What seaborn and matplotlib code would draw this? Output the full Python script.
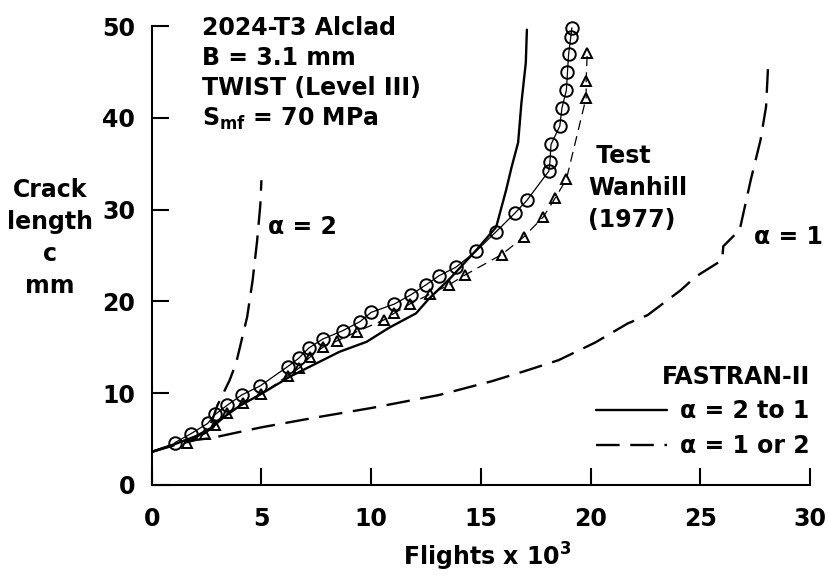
import matplotlib.pyplot as plt
import seaborn as sns

# Test data, Wanhill (1977): circles and triangles
test_o_x = [1.05, 1.8, 2.55, 2.9, 3.45, 4.1, 4.95, 6.2, 6.7, 7.15, 7.8, 8.7, 9.5, 10.0,
            11.05, 11.8, 12.5, 13.1, 13.85, 14.8, 15.7, 16.55, 17.1, 18.1, 18.15, 18.2,
            18.6, 18.7, 18.9, 18.95, 19.0, 19.1, 19.15]
test_o_c = [4.6, 5.6, 6.7, 7.7, 8.7, 9.8, 10.8, 12.9, 13.8, 14.9, 15.9, 16.8, 17.8, 18.8,
            19.7, 20.7, 21.8, 22.8, 23.7, 25.5, 27.6, 29.6, 31.0, 34.2, 35.2, 37.1,
            39.1, 41.1, 43.0, 45.0, 46.9, 48.8, 49.8]

test_t_x = [1.6, 2.45, 2.9, 3.45, 4.15, 5.0, 6.2, 6.7, 7.2, 7.8, 8.45, 9.35, 10.6, 11.05,
            11.75, 12.7, 13.55, 14.3, 15.95, 16.95, 17.85, 18.4, 18.9, 19.8, 19.8, 19.85]
test_t_c = [4.6, 5.6, 6.5, 7.8, 8.9, 9.9, 11.9, 12.7, 13.9, 15.0, 15.7, 16.7, 18.0, 18.7,
            19.7, 20.8, 21.8, 22.9, 25.1, 27.0, 29.2, 31.3, 33.3, 42.2, 44.0, 47.1]

# FASTRAN-II, alpha = 2 to 1
fas_21_x = [0, 1, 2, 2.7, 3.3, 4.0, 5.05, 6.3, 7.05, 8.55, 9.8, 10.8, 12.05, 12.6, 13.6,
            14.8, 15.7, 16.15, 16.4, 16.7, 16.85, 17.05, 17.1]
fas_21_c = [3.6, 4.4, 5.3, 6.2, 7.4, 8.6, 10.0, 11.8, 12.7, 14.5, 15.6, 17.1, 18.7, 20.2, 22.5,
            25.6, 28.1, 32.1, 34.6, 37.3, 41.6, 46.0, 49.6]

# FASTRAN-II, alpha = 1
fas_1_x = [0, 1, 2, 2.7, 4.45, 5.05, 7.6, 10.05, 13.1, 15.5, 17.0, 18.55, 20.2, 21.7, 22.6,
           24.1, 24.8, 26.0, 26.05, 26.8, 27.3, 27.75, 28.0, 28.1]
fas_1_c = [3.6, 4.3, 4.9, 5.1, 6.0, 6.3, 7.4, 8.4, 9.8, 11.3, 12.4, 13.6, 15.5, 17.6, 18.5,
           21.2, 22.7, 24.5, 26.0, 27.8, 33.2, 37.6, 41.2, 46.0]

# FASTRAN-II, alpha = 2
fas_2_x = [0, 1, 2, 2.6, 3.0, 3.55, 3.85, 4.35, 4.6, 4.8, 4.95, 5.0]
fas_2_c = [3.6, 4.4, 5.2, 6.0, 8.7, 11.4, 13.3, 18.3, 22.3, 26.5, 30.5, 33.2]

info_lines = ['2024-T3 Alclad', 'B = 3.1 mm', 'TWIST (Level III)', 'S$_{mf}$ = 70 MPa']

sns.set_theme(style='ticks', rc={'axes.edgecolor': 'black', 'xtick.color': 'black',
                                 'ytick.color': 'black', 'text.color': 'black',
                                 'axes.labelcolor': 'black'})
plt.rcParams['font.family'] = ['DejaVu Sans']
plt.rcParams['font.weight'] = 'bold'
plt.rcParams['axes.labelweight'] = 'bold'
plt.rcParams['mathtext.default'] = 'regular'
plt.rcParams['font.size'] = 17
FS = 17

fig, ax = plt.subplots(figsize=(8.29, 5.78), dpi=100)
fig.subplots_adjust(left=0.183, right=0.977, bottom=0.161, top=0.955)

sns.lineplot(x=fas_21_x, y=fas_21_c, ax=ax, color='black', lw=1.7,
             estimator=None, sort=False)
line_21 = ax.lines[-1]
sns.lineplot(x=fas_1_x, y=fas_1_c, ax=ax, color='black', lw=1.7,
             linestyle=(0, (10, 4.5)), estimator=None, sort=False)
line_1 = ax.lines[-1]
sns.lineplot(x=fas_2_x, y=fas_2_c, ax=ax, color='black', lw=1.7,
             linestyle=(0, (10, 4.5)), estimator=None, sort=False)

sns.lineplot(x=test_o_x, y=test_o_c, ax=ax, color='black', lw=0.9, marker='o',
             markersize=9, markerfacecolor='none', markeredgecolor='black',
             markeredgewidth=1.4, estimator=None, sort=False, clip_on=False)
sns.lineplot(x=test_t_x, y=test_t_c, ax=ax, color='black', lw=0.9, marker='^',
             linestyle=(0, (8, 5)), markersize=7.5, markerfacecolor='none',
             markeredgecolor='black', markeredgewidth=1.4, estimator=None, sort=False)

ax.set_xlim(0, 30)
ax.set_ylim(0, 50)
ax.set_xticks(range(0, 31, 5))
ax.set_yticks(range(0, 51, 10))
sns.despine(ax=ax)
for s in ['left', 'bottom']:
    ax.spines[s].set_linewidth(1.5)
ax.tick_params(axis='both', direction='in', length=12, width=1.5, labelsize=FS)
ax.tick_params(axis='x', pad=16)
ax.tick_params(axis='y', pad=12)

ax.set_xlabel('Flights x 10$^3$', fontsize=FS, fontweight='bold', va='center')
ax.xaxis.set_label_coords(0.51, -0.157)
ax.set_ylabel('Crack\nlength\nc\nmm', fontsize=FS, fontweight='bold', rotation=0,
              ha='center', va='center', linespacing=1.42)
ax.yaxis.set_label_coords(-0.155, 0.538)

for i, txt in enumerate(info_lines):
    ax.text(2.27, 48.97 - 3.27 * i, txt, fontsize=FS, ha='left', va='baseline')

ax.text(5.3, 28.1, 'α = 2', fontsize=FS, ha='left', va='center')
ax.text(27.45, 27.0, 'α = 1', fontsize=FS, ha='left', va='center')
ax.text(19.9, 32.3, ' Test\nWanhill\n(1977)', fontsize=FS, ha='left', va='center',
        linespacing=1.42)

ax.legend([line_21, line_1], ['α = 2 to 1', 'α = 1 or 2'], title='FASTRAN-II',
          title_fontsize=FS, fontsize=FS, alignment='right', loc='lower right',
          bbox_to_anchor=(1.0, 0.058), frameon=False, handlelength=3.0,
          handletextpad=0.55, borderpad=0, borderaxespad=0, labelspacing=0.46)

fig.savefig('out.png', dpi=100)
